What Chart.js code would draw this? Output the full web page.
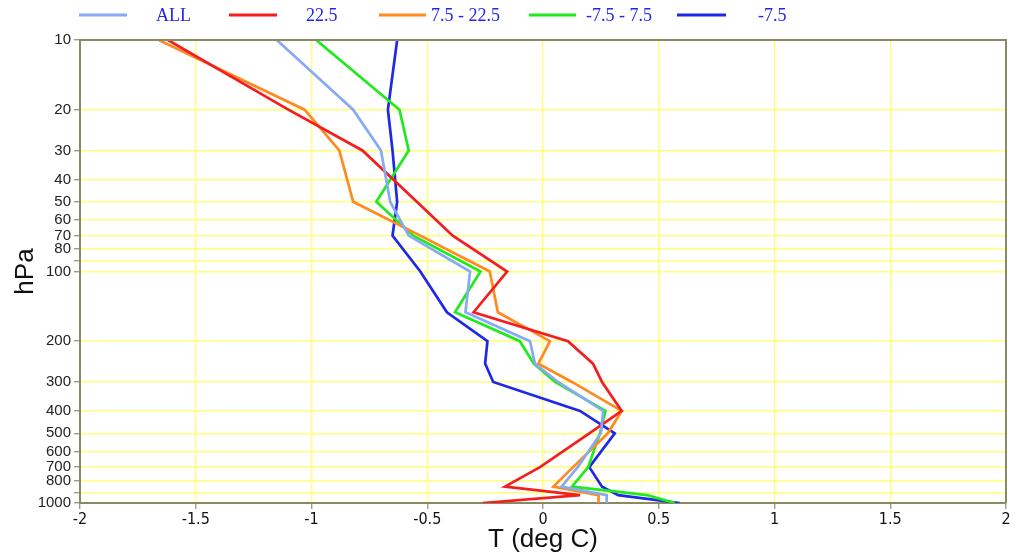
<!DOCTYPE html>
<html>
<head>
<meta charset="utf-8">
<script src="https://cdn.jsdelivr.net/npm/chart.js@4/dist/chart.umd.min.js"></script>
<style>
  html, body { margin: 0; padding: 0; background: #fff; }
  #wrap { width: 1021px; height: 557px; }
</style>
</head>
<body>
<div id="wrap"><canvas id="canvas" width="1021" height="557"></canvas></div>
<script>
// pressure levels (hPa)
var levels = [10, 20, 30, 50, 70, 100, 150, 200, 250, 300, 400, 500, 700, 850, 925, 1000];
// y axis ticks
var yTicks = [10, 20, 30, 40, 50, 60, 70, 80, 90, 100, 200, 300, 400, 500, 600, 700, 800, 900, 1000];
var yHidden = [90, 900]; // no label on these

// legend labels
var seriesNames = ['ALL', '22.5', '7.5 - 22.5', '-7.5 - 7.5', '-7.5'];

// T (deg C) per level
var tAll   = [-1.15, -0.82, -0.70, -0.66, -0.58, -0.315, -0.335, -0.056, -0.035, 0.065, 0.26, 0.25, 0.15, 0.08, 0.275, 0.275];
var t225   = [-1.62, -1.10, -0.78, -0.545, -0.39, -0.155, -0.30, 0.108, 0.216, 0.255, 0.34, 0.20, -0.013, -0.164, 0.16, -0.26];
var t75    = [-1.66, -1.03, -0.88, -0.82, -0.53, -0.23, -0.195, 0.03, -0.02, 0.125, 0.34, 0.28, 0.13, 0.045, 0.24, 0.24];
var tMid   = [-0.98, -0.62, -0.58, -0.72, -0.56, -0.27, -0.38, -0.10, -0.04, 0.052, 0.27, 0.246, 0.195, 0.125, 0.45, 0.57];
var tM75   = [-0.63, -0.67, -0.65, -0.63, -0.65, -0.53, -0.415, -0.24, -0.25, -0.215, 0.16, 0.31, 0.20, 0.255, 0.325, 0.59];

var colors = ['#86aaf5', '#f51e1e', '#ff8a1e', '#1eeb1e', '#1e28e6'];
var allSeries = [tAll, t225, t75, tMid, tM75];

var gridCol = '#ffff78';
var axisCol = '#8a8a62';

function toPoints(vals) {
  var pts = [];
  for (var i = 0; i < levels.length; i++) {
    pts.push({x: vals[i], y: levels[i]});
  }
  return pts;
}

// legend: line start/end and text x (px), drawn by hand like the original
var legendLine = [[79, 127], [229, 277], [379, 426], [529, 576], [677, 726]];
var legendText = [156, 306, 431, 586, 758];

var extras = {
  id: 'extras',
  afterDraw: function(chart) {
    var ctx = chart.ctx, a = chart.chartArea;
    ctx.save();
    // top and right frame lines
    ctx.strokeStyle = axisCol;
    ctx.lineWidth = 2;
    ctx.beginPath();
    ctx.moveTo(a.left, a.top);
    ctx.lineTo(a.right, a.top);
    ctx.lineTo(a.right, a.bottom);
    ctx.stroke();
    // legend
    ctx.font = '18px "Liberation Serif"';
    ctx.textBaseline = 'middle';
    ctx.textAlign = 'left';
    for (var i = 0; i < seriesNames.length; i++) {
      ctx.strokeStyle = colors[i];
      ctx.lineWidth = 3;
      ctx.beginPath();
      ctx.moveTo(legendLine[i][0], 15);
      ctx.lineTo(legendLine[i][1], 15);
      ctx.stroke();
      ctx.fillStyle = '#2424f0';
      ctx.fillText(seriesNames[i], legendText[i], 16);
    }
    ctx.restore();
  }
};

var datasets = [];
for (var i = 0; i < allSeries.length; i++) {
  datasets.push({
    label: seriesNames[i],
    data: toPoints(allSeries[i]),
    borderColor: colors[i],
    backgroundColor: colors[i],
    borderWidth: 2.7,
    pointRadius: 0,
    showLine: true,
    tension: 0
  });
}

var ctx = document.getElementById('canvas').getContext('2d');
window.myChart = new Chart(ctx, {
  type: 'scatter',
  data: { datasets: datasets },
  options: {
    responsive: false,
    animation: false,
    layout: { padding: { left: 0, top: 40, right: 15, bottom: 0 } },
    plugins: {
      legend: { display: false },
      tooltip: { enabled: false }
    },
    scales: {
      x: {
        type: 'linear',
        min: -2,
        max: 2,
        ticks: {
          stepSize: 0.5,
          color: '#111',
          padding: 1,
          font: { family: '"DejaVu Sans Condensed", "Liberation Sans Narrow", "Liberation Sans"', size: 16 },
          callback: function(v) { return String(v); }
        },
        grid: { color: gridCol, tickColor: '#999', tickLength: 6, lineWidth: 1.4 },
        border: { color: axisCol, width: 2 },
        title: {
          display: true,
          text: 'T (deg C)',
          color: '#111',
          font: { family: '"Liberation Sans"', size: 26 },
          padding: { top: 0, bottom: 2 }
        },
        afterFit: function(scale) { scale.height = 54; }
      },
      y: {
        type: 'logarithmic',
        reverse: true,
        min: 10,
        max: 1000,
        afterBuildTicks: function(scale) {
          scale.ticks = yTicks.map(function(v) { return {value: v}; });
        },
        ticks: {
          autoSkip: false,
          color: '#222',
          padding: 3,
          font: { family: '"Liberation Sans"', size: 15 },
          callback: function(v) {
            return yHidden.indexOf(v) >= 0 ? '' : String(v);
          }
        },
        grid: { color: gridCol, tickColor: '#999', tickLength: 6, lineWidth: 1.4 },
        border: { color: axisCol, width: 2 },
        title: {
          display: true,
          text: 'hPa',
          color: '#111',
          font: { family: '"Liberation Sans"', size: 26 },
          padding: { top: 10, bottom: 0 }
        },
        afterFit: function(scale) { scale.width = 80; }
      }
    }
  },
  plugins: [extras]
});
</script>
</body>
</html>
